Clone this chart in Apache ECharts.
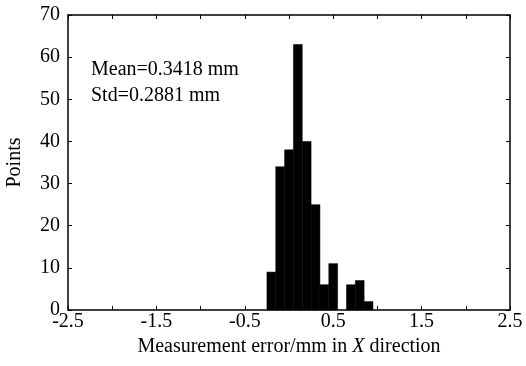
<!DOCTYPE html>
<html><head><meta charset="utf-8">
<script src="https://cdn.jsdelivr.net/npm/echarts@6/dist/echarts.min.js"></script>
<style>html,body{margin:0;padding:0;background:#fff}#c{width:526px;height:366px}</style>
</head><body><div id="c"></div>
<script>
const binCenters = [-0.2, -0.1, 0.0, 0.1, 0.2, 0.3, 0.4, 0.5, 0.6, 0.7, 0.8, 0.9];
const counts     = [9, 34, 38, 63, 40, 25, 6, 11, 0, 6, 7, 2];
const binWidth = 0.1;
const xLabels = [-2.5, -1.5, -0.5, 0.5, 1.5, 2.5];
const yTicks = [0, 10, 20, 30, 40, 50, 60, 70];
const statLines = ['Mean=0.3418 mm', 'Std=0.2881 mm'];

const F = 'Liberation Serif';
const chart = echarts.init(document.getElementById('c'));
const data = binCenters.map((x, i) => [x, counts[i]]);
const axisCommon = {
  axisLine: {onZero: false, lineStyle: {color: '#000', width: 1.5}},
  axisTick: {inside: true, length: 4, lineStyle: {color: '#000', width: 1}},
  splitLine: {show: false}
};
chart.setOption({
  animation: false,
  grid: {left: 68, right: 16, top: 15, bottom: 56, containLabel: false, outerBoundsMode: 'none'},
  xAxis: [{
    type: 'value', min: -2.5, max: 2.5, interval: 0.5,
    ...axisCommon,
    axisLabel: {
      color: '#000', fontFamily: F, fontSize: 20, margin: 2,
      formatter: v => xLabels.some(l => Math.abs(l - v) < 1e-6) ? String(v) : ''
    },
    name: 'Measurement error/mm in {i|X} direction',
    nameLocation: 'middle', nameGap: 20,
    nameTextStyle: {color: '#000', fontFamily: F, fontSize: 20,
      rich: {i: {fontStyle: 'italic', fontFamily: F, fontSize: 20, color: '#000'}}}
  }, {
    type: 'value', position: 'top', min: -2.5, max: 2.5, interval: 0.5,
    ...axisCommon, axisLabel: {show: false}
  }],
  yAxis: [{
    type: 'value', min: 0, max: 70, interval: 10,
    ...axisCommon,
    axisLabel: {color: '#000', fontFamily: F, fontSize: 20, margin: 8,
      formatter: v => yTicks.includes(v) ? String(v) : ''},
    name: 'Points', nameLocation: 'middle', nameGap: 43, nameRotate: 90,
    nameTextStyle: {color: '#000', fontFamily: F, fontSize: 20}
  }, {
    type: 'value', position: 'right', min: 0, max: 70, interval: 10,
    ...axisCommon, axisLabel: {show: false}
  }],
  graphic: statLines.map((t, i) => ({
    type: 'text', left: 91, top: 60 + i * 26,
    style: {text: t, fill: '#000', font: '20px "Liberation Serif"'}
  })),
  series: [{
    type: 'custom',
    data: data,
    renderItem: (params, api) => {
      const x = api.value(0), y = api.value(1);
      if (!y) return null;
      const p0 = api.coord([x - binWidth / 2, y]);
      const p1 = api.coord([x + binWidth / 2, 0]);
      return {type: 'rect',
        shape: {x: p0[0], y: p0[1], width: p1[0] - p0[0], height: p1[1] - p0[1]},
        style: {fill: '#000', stroke: '#000', lineWidth: 0.5}};
    },
    encode: {x: 0, y: 1}
  }]
});
</script></body></html>
